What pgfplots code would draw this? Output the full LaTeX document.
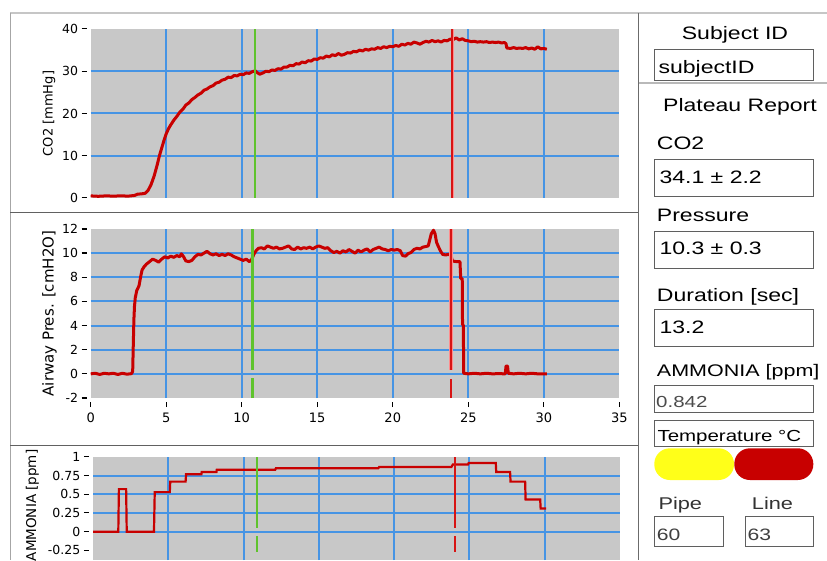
\documentclass[border=0pt]{standalone}
\usepackage{fontspec}
\setmainfont{DejaVu Sans}
\newfontfamily\pf[FakeStretch=1.28]{Liberation Sans}
\usepackage{pgfplots}
\pgfplotsset{compat=1.18}
\definecolor{plotgray}{RGB}{200,200,200}
\definecolor{gridblue}{RGB}{70,148,228}
\definecolor{curvered}{RGB}{200,0,0}
\definecolor{curgreen}{RGB}{95,195,45}
\definecolor{cursorred}{RGB}{215,20,20}
\definecolor{pillyellow}{RGB}{255,255,25}
\definecolor{boxgray}{RGB}{95,95,95}
\pgfplotsset{
  panel/.style={
    scale only axis, anchor=south west,
    xmin=0, xmax=35,
    axis background/.style={fill=plotgray},
    axis line style={draw=none},
    grid=major,
    major grid style={draw=gridblue, line width=2pt},
    major tick length=0pt,
    xtick={5,10,...,30},
    extra x tick style={grid=none, major tick length=0pt},
    extra y tick style={grid=none, major tick length=0pt},
    /pgf/number format/assume math mode=true,
    yticklabel={\pgfmathprintnumber{\tick}\hspace{3.5pt}\rule[0.33em]{5pt}{1.1pt}},
    yticklabel style={anchor=east, inner sep=0pt, xshift=-4pt, font=\fontsize{12.5}{14}\selectfont},
    clip=true,
  },
}
\newcommand{\pfs}[1]{\pf\fontsize{#1}{#1}\selectfont}
\begin{document}
\begin{tikzpicture}
\useasboundingbox (0,0) rectangle (827pt,560pt);
\fill[white] (0,0) rectangle (827pt,560pt);

% ---------- top panel: CO2
\begin{axis}[panel, at={(90.7pt,362pt)}, width=528.6pt, height=169pt,
  ymin=0, ymax=40, xticklabels={},
  ytick={10,20,30}, extra y ticks={0,40},
  ylabel={CO2 [mmHg]},
  ylabel style={at={(axis description cs:-0.079,0.5)}, anchor=center, font=\fontsize{13}{15}\selectfont}]
\addplot[curvered, line width=3pt, line join=round] coordinates {
(0,0.5)(0.5,0.4)(1,0.5)(1.5,0.45)(2,0.5)(2.5,0.45)(2.9,0.6)(3.1,0.9)(3.4,1.0)(3.6,1.1)(3.8,1.8)(4.0,3.2)(4.2,5.2)(4.4,7.8)(4.55,10.0)(4.7,11.8)(4.85,13.6)(5.0,15.2)(5.15,16.4)(5.3,17.3)(5.5,18.4)(5.7,19.3)(5.9,20.3)(6.1,21.0)(6.3,22.0)(6.5,22.5)(6.7,23.3)(6.9,23.8)(7.1,24.4)(7.3,24.8)(7.5,25.5)(7.7,25.8)(7.9,26.3)(8.1,26.6)(8.3,27.2)(8.5,27.4)(8.7,27.9)(8.9,28.1)(9.1,28.6)(9.3,28.5)(9.5,29.0)(9.7,28.9)(9.9,29.3)(10.1,29.2)(10.3,29.6)(10.5,29.5)(10.7,29.9)(10.9,30.1)(11.05,29.6)(11.2,29.3)(11.4,29.6)(11.6,30.0)(11.8,29.9)(12.0,30.3)(12.2,30.2)(12.4,30.6)(12.6,30.5)(12.8,31.0)(13.0,31.0)(13.2,31.4)(13.4,31.3)(13.6,31.8)(13.8,31.7)(14.0,32.2)(14.2,32.0)(14.4,32.5)(14.6,32.4)(14.8,32.9)(15.0,32.8)(15.2,33.2)(15.4,33.1)(15.6,33.6)(15.8,33.4)(16.0,33.9)(16.2,33.7)(16.4,34.2)(16.6,33.8)(16.8,34.0)(17.0,34.4)(17.2,34.3)(17.4,34.7)(17.6,34.6)(17.8,35.0)(18.0,34.8)(18.2,35.2)(18.4,35.0)(18.6,35.3)(18.8,35.2)(19.0,35.6)(19.2,35.4)(19.4,35.8)(19.6,35.6)(19.8,35.9)(20.0,35.8)(20.2,36.1)(20.4,35.9)(20.6,36.4)(20.8,36.2)(21.0,36.6)(21.2,36.4)(21.4,36.9)(21.6,36.7)(21.8,36.4)(22.0,36.8)(22.2,37.1)(22.4,36.9)(22.6,37.3)(22.8,37.0)(23.0,37.2)(23.2,36.9)(23.4,37.3)(23.6,37.2)(23.8,37.6)(24.0,37.5)(24.2,37.9)(24.4,37.4)(24.6,37.7)(24.8,37.3)(25.0,37.2)(25.2,37.0)(25.4,37.1)(25.6,36.9)(25.8,37.0)(26.0,36.9)(26.2,37.0)(26.4,36.8)(26.6,36.9)(26.8,36.8)(27.0,36.9)(27.2,36.7)(27.4,36.8)(27.5,36.5)(27.55,35.5)(27.8,35.4)(28.0,35.6)(28.2,35.4)(28.4,35.5)(28.6,35.4)(28.8,35.6)(29.0,35.3)(29.2,35.5)(29.4,35.2)(29.6,35.8)(29.8,35.3)(30.0,35.4)(30.2,35.2)};
\addplot[curgreen, line width=2.8pt] coordinates {(10.88,0)(10.88,40)};
\addplot[red!45, line width=3.8pt] coordinates {(23.95,0)(23.95,40)};
\addplot[cursorred, line width=2pt] coordinates {(23.95,0)(23.95,40)};
\end{axis}

% ---------- middle panel: airway pressure
\begin{axis}[panel, at={(90.7pt,162pt)}, width=528.6pt, height=169pt,
  ymin=-2, ymax=12,
  extra x ticks={0,35},
  xticklabel={\rule{1.1pt}{5pt}\\\pgfmathprintnumber{\tick}},
  xticklabel style={align=center, anchor=north, inner sep=0pt, yshift=-4pt, font=\fontsize{13}{15}\selectfont},
  ytick={0,2,...,10}, extra y ticks={-2,12},
  ylabel={Airway Pres. [cmH2O]},
  ylabel style={at={(axis description cs:-0.078,0.5)}, anchor=center, font=\fontsize{15}{17}\selectfont}]
\addplot[curvered, line width=3pt, line join=round] coordinates {
(0,0)(0.3,0.05)(0.6,-0.05)(0.9,0.05)(1.2,0)(1.5,0.05)(1.8,-0.05)(2.1,0.05)(2.4,-0.03)(2.7,0.02)(2.78,0.2)(2.82,2.4)(2.86,4.5)(2.9,5.6)(2.95,6.3)(3.05,6.9)(3.2,7.3)(3.3,8.0)(3.4,8.6)(3.55,8.9)(3.7,9.1)(3.9,9.3)(4.1,9.5)(4.3,9.4)(4.5,9.25)(4.7,9.5)(4.9,9.7)(5.1,9.6)(5.3,9.75)(5.5,9.65)(5.7,9.8)(5.9,9.7)(6.0,9.95)(6.15,9.7)(6.3,9.35)(6.5,9.3)(6.7,9.4)(6.9,9.7)(7.1,9.9)(7.3,9.85)(7.5,10.0)(7.7,10.15)(7.9,9.95)(8.1,9.85)(8.3,9.95)(8.5,9.8)(8.7,9.9)(8.9,9.8)(9.1,9.95)(9.3,9.85)(9.5,9.7)(9.7,9.6)(9.9,9.5)(10.1,9.4)(10.3,9.5)(10.5,9.3)(10.65,9.45)(10.8,9.9)(10.95,10.2)(11.1,10.4)(11.3,10.45)(11.5,10.35)(11.7,10.6)(11.9,10.5)(12.1,10.4)(12.3,10.5)(12.5,10.35)(12.7,10.4)(12.9,10.5)(13.1,10.6)(13.3,10.35)(13.5,10.3)(13.7,10.5)(13.9,10.35)(14.1,10.45)(14.3,10.4)(14.5,10.5)(14.7,10.35)(14.9,10.5)(15.1,10.6)(15.3,10.5)(15.5,10.4)(15.7,10.45)(15.9,10.2)(16.1,10.05)(16.3,10.15)(16.5,10.0)(16.7,10.2)(16.9,10.1)(17.1,10.3)(17.3,10.15)(17.5,10.0)(17.7,10.25)(17.9,10.1)(18.1,10.25)(18.3,10.35)(18.5,10.1)(18.7,10.3)(18.9,10.4)(19.1,10.5)(19.3,10.35)(19.5,10.3)(19.7,10.2)(19.9,10.3)(20.1,10.25)(20.3,10.3)(20.5,10.2)(20.65,9.8)(20.85,9.75)(21.0,9.95)(21.2,10.05)(21.4,10.3)(21.6,10.4)(21.8,10.35)(22.0,10.5)(22.2,10.55)(22.35,10.6)(22.45,11.1)(22.55,11.6)(22.7,11.9)(22.8,11.6)(22.9,10.9)(23.0,10.6)(23.15,10.2)(23.3,9.9)(23.5,9.85)(23.7,9.9)(23.85,9.8)(23.95,9.35)(24.2,9.3)(24.45,9.3)(24.5,7.9)(24.6,7.9)(24.62,4.05)(24.67,4.05)(24.7,0.05)(25.0,0)(25.4,0.05)(25.8,0)(26.2,0.05)(26.6,0)(27.0,0.02)(27.45,0)(27.5,0.65)(27.6,0.65)(27.65,0.05)(28.0,0)(28.4,0.05)(28.8,0)(29.2,0.05)(29.6,0)(30.2,0)};
\addplot[curgreen, line width=2.8pt] coordinates {(10.7,0.33)(10.7,12)};
\addplot[curgreen, line width=2.8pt] coordinates {(10.7,-2)(10.7,-0.33)};
\addplot[red!45, line width=3.8pt] coordinates {(23.88,0.33)(23.88,12)};
\addplot[cursorred, line width=2pt] coordinates {(23.88,0.33)(23.88,12)};
\addplot[cursorred, line width=2pt] coordinates {(23.88,-2)(23.88,-0.45)};
\end{axis}

% ---------- bottom panel: ammonia
\begin{axis}[panel, at={(93pt,0pt)}, width=527pt, height=103pt,
  ymin=-0.379, ymax=1, xticklabels={},
  ytick={0,0.25,0.5,0.75}, extra y ticks={-0.25,1},
  ylabel={AMMONIA [ppm]},
  ylabel style={at={(axis description cs:-0.1148,0.53)}, anchor=center, font=\fontsize{13.5}{15}\selectfont}]
\addplot[curvered, line width=2.2pt] coordinates {
(0,0)(1.68,0)(1.72,0.57)(2.2,0.57)(2.24,0)(4.05,0)(4.1,0.53)(5.1,0.53)(5.13,0.67)(6.15,0.67)(6.18,0.77)(7.2,0.77)(7.22,0.80)(8.2,0.80)(8.22,0.83)(12.1,0.83)(12.15,0.85)(18.95,0.85)(19.0,0.865)(23.8,0.865)(23.9,0.90)(24.9,0.90)(24.95,0.92)(26.75,0.92)(26.78,0.80)(27.7,0.80)(27.73,0.67)(28.7,0.67)(28.73,0.43)(29.7,0.43)(29.73,0.31)(30.1,0.31)};
\addplot[curgreen, line width=2.6pt] coordinates {(10.9,0.05)(10.9,1)};
\addplot[curgreen, line width=2.6pt] coordinates {(10.9,-0.27)(10.9,-0.06)};
\addplot[cursorred, line width=2.2pt] coordinates {(24.05,0.05)(24.05,1)};
\addplot[cursorred, line width=2.2pt] coordinates {(24.05,-0.27)(24.05,-0.06)};
\end{axis}

% ---------- frames
\draw[gray!45, line width=2pt] (10pt,547.3pt) -- (827pt,547.3pt);
\draw[gray!70, line width=0.8pt] (10pt,547.3pt) -- (10pt,0pt);
\draw[black!62, line width=1.5pt] (10pt,347.3pt) -- (638pt,347.3pt);
\draw[black!62, line width=1.5pt] (10pt,114.3pt) -- (638pt,114.3pt);
\draw[black!58, line width=1pt] (638pt,547.3pt) -- (638pt,0pt);
\draw[gray!55, line width=2pt] (638.5pt,476.6pt) -- (827pt,476.6pt);

% ---------- right panel
\node[anchor=base, inner sep=0pt] at (735pt,520.7pt) {\pfs{18}Subject ID};
\draw[boxgray, line width=1pt] (654.3pt,479pt) rectangle (813.7pt,510.7pt);
\node[anchor=base west, inner sep=0pt] at (658.3pt,486.7pt) {\pfs{18}subjectID};
\node[anchor=base, inner sep=0pt] at (740pt,448.3pt) {\pfs{18}Plateau Report};
\node[anchor=base west, inner sep=0pt] at (656.7pt,410pt) {\pfs{18}CO2};
\draw[boxgray, line width=1pt] (654.3pt,363.3pt) rectangle (813.7pt,400pt);
\node[anchor=base west, inner sep=0pt] at (659.3pt,376.7pt) {\pfs{18}34.1 ± 2.2};
\node[anchor=base west, inner sep=0pt] at (656.7pt,338.3pt) {\pfs{18}Pressure};
\draw[boxgray, line width=1pt] (654.3pt,291.7pt) rectangle (813.7pt,328.3pt);
\node[anchor=base west, inner sep=0pt] at (659.3pt,305pt) {\pfs{18}10.3 ± 0.3};
\node[anchor=base west, inner sep=0pt] at (656.7pt,258.3pt) {\pfs{18}Duration [sec]};
\draw[boxgray, line width=1pt] (654.3pt,213.3pt) rectangle (813.7pt,250.7pt);
\node[anchor=base west, inner sep=0pt] at (659.3pt,226.7pt) {\pfs{18}13.2};
\node[anchor=base west, inner sep=0pt] at (656.7pt,183.3pt) {\pfs{16.8}AMMONIA [ppm]};
\draw[boxgray, line width=1pt] (654.3pt,147.3pt) rectangle (813.7pt,175pt);
\node[anchor=base west, inner sep=0pt, text=black!70] at (656pt,152.7pt) {\pfs{16}0.842};
\draw[boxgray, line width=1pt] (654.3pt,114pt) rectangle (813.7pt,139.3pt);
\node[anchor=base west, inner sep=0pt] at (657.3pt,119pt) {\pfs{16}Temperature °C};
\fill[pillyellow, rounded corners=15.5pt] (654.3pt,80pt) rectangle (734pt,111.7pt);
\fill[curvered, rounded corners=15.5pt] (734.3pt,80pt) rectangle (813.3pt,111.7pt);
\node[anchor=base west, inner sep=0pt, text=black!80] at (658.3pt,50.7pt) {\pfs{17}Pipe};
\node[anchor=base west, inner sep=0pt, text=black!80] at (751.7pt,50.7pt) {\pfs{17}Line};
\draw[boxgray, line width=1pt] (654.3pt,13.3pt) rectangle (723.3pt,43.3pt);
\node[anchor=base west, inner sep=0pt, text=black!75] at (656.7pt,20pt) {\pfs{16.5}60};
\draw[boxgray, line width=1pt] (745pt,13.3pt) rectangle (813.7pt,43.3pt);
\node[anchor=base west, inner sep=0pt, text=black!75] at (747.3pt,20pt) {\pfs{16.5}63};
\end{tikzpicture}
\end{document}
